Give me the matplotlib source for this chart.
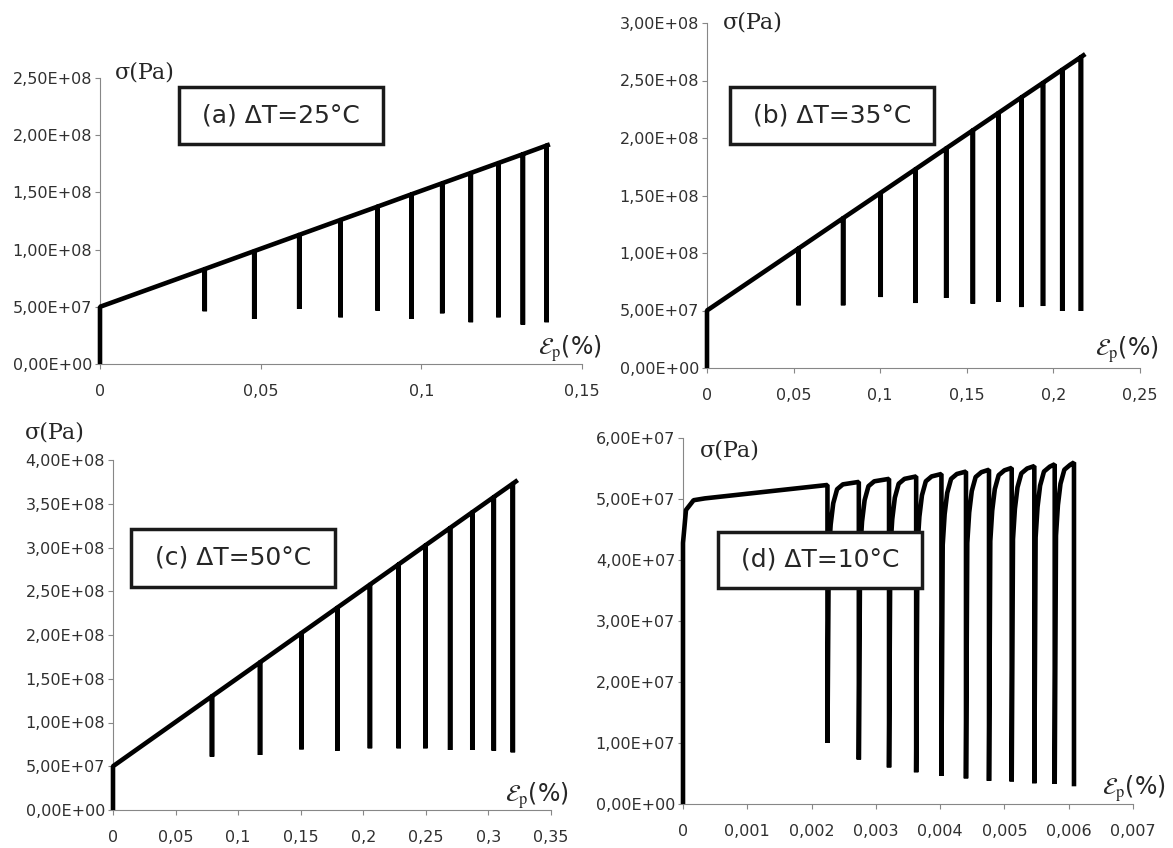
import matplotlib
matplotlib.use('Agg')
import matplotlib.pyplot as plt
from matplotlib.patches import Rectangle

plt.rcParams['mathtext.fontset'] = 'stix'
plt.rcParams['font.family'] = ['DejaVu Sans']

W, H = 1173, 848

# ---- (a) dT = 25 C ----
a_yield = 5.0e7
a_strain = [0.0326, 0.048, 0.062, 0.0749, 0.0864, 0.0969, 0.1065, 0.1154, 0.124, 0.1316, 0.139]
a_peak = [83.0e6, 98.7e6, 112.9e6, 126.0e6, 137.6e6, 148.3e6, 158.0e6, 167.0e6, 175.7e6, 183.4e6, 191.0e6]
a_valley = [46.1e6, 39.4e6, 48.1e6, 40.8e6, 46.7e6, 39.4e6, 44.3e6, 36.5e6, 40.8e6, 34.4e6, 36.5e6]
a_end = (0.140, 1.92e8)

# ---- (b) dT = 35 C ----
b_yield = 5.0e7
b_strain = [0.0529, 0.0786, 0.1003, 0.1203, 0.1381, 0.1535, 0.1682, 0.1815, 0.1940, 0.2051, 0.2159]
b_peak = [104.0e6, 130.3e6, 152.4e6, 172.8e6, 191.0e6, 206.7e6, 221.7e6, 235.3e6, 248.0e6, 259.4e6, 270.4e6]
b_valley = [54.5e6, 54.5e6, 61.7e6, 56.5e6, 60.9e6, 55.9e6, 57.4e6, 53.0e6, 53.9e6, 49.6e6, 49.6e6]
b_end = (0.2184, 2.73e8)

# ---- (c) dT = 50 C ----
c_yield = 5.0e7
c_strain = [0.0791, 0.1175, 0.1506, 0.1793, 0.2053, 0.2283, 0.2496, 0.2694, 0.2871, 0.3043, 0.3195]
c_peak = [130.0e6, 168.8e6, 202.3e6, 231.3e6, 257.6e6, 280.8e6, 302.4e6, 322.4e6, 340.3e6, 357.7e6, 373.0e6]
c_valley = [61.0e6, 62.9e6, 69.3e6, 67.8e6, 70.5e6, 70.5e6, 70.5e6, 68.6e6, 68.6e6, 67.8e6, 65.9e6]
c_end = (0.3234, 3.77e8)

# ---- (d) dT = 10 C ----
d_init_x = [0.0, 0.0, 0.0000466, 0.000165, 0.00034]
d_init_y = [0.0, 4.28e7, 4.82e7, 4.98e7, 5.01e7]
d_strain = [0.002247, 0.002735, 0.003205, 0.003627, 0.004020, 0.004402, 0.004760, 0.005113, 0.005465, 0.005782, 0.006082]
d_peak = [5.23e7, 5.28e7, 5.33e7, 5.37e7, 5.41e7, 5.45e7, 5.48e7, 5.51e7, 5.54e7, 5.57e7, 5.60e7]
d_valley = [1.00e7, 0.73e7, 0.60e7, 0.52e7, 0.46e7, 0.42e7, 0.38e7, 0.37e7, 0.34e7, 0.33e7, 0.29e7]
# reload knee after each unloading: strain offset and stress below the next peak
d_knee_dx = [0.00002, 0.00005, 0.00009, 0.00015, 0.00024]
d_knee_below = [1.2e7, 0.7e7, 0.35e7, 0.12e7, 0.04e7]

# ticks
a_xticks = [0, 0.05, 0.1, 0.15]
a_xlabels = ['0', '0,05', '0,1', '0,15']
a_yticks = [0, 5e7, 1e8, 1.5e8, 2e8, 2.5e8]
a_ylabels = ['0,00E+00', '5,00E+07', '1,00E+08', '1,50E+08', '2,00E+08', '2,50E+08']
b_xticks = [0, 0.05, 0.1, 0.15, 0.2, 0.25]
b_xlabels = ['0', '0,05', '0,1', '0,15', '0,2', '0,25']
b_yticks = [0, 5e7, 1e8, 1.5e8, 2e8, 2.5e8, 3e8]
b_ylabels = ['0,00E+00', '5,00E+07', '1,00E+08', '1,50E+08', '2,00E+08', '2,50E+08', '3,00E+08']
c_xticks = [0, 0.05, 0.1, 0.15, 0.2, 0.25, 0.3, 0.35]
c_xlabels = ['0', '0,05', '0,1', '0,15', '0,2', '0,25', '0,3', '0,35']
c_yticks = [0, 5e7, 1e8, 1.5e8, 2e8, 2.5e8, 3e8, 3.5e8, 4e8]
c_ylabels = ['0,00E+00', '5,00E+07', '1,00E+08', '1,50E+08', '2,00E+08', '2,50E+08',
             '3,00E+08', '3,50E+08', '4,00E+08']
d_xticks = [0, 0.001, 0.002, 0.003, 0.004, 0.005, 0.006, 0.007]
d_xlabels = ['0', '0,001', '0,002', '0,003', '0,004', '0,005', '0,006', '0,007']
d_yticks = [0, 1e7, 2e7, 3e7, 4e7, 5e7, 6e7]
d_ylabels = ['0,00E+00', '1,00E+07', '2,00E+07', '3,00E+07', '4,00E+07', '5,00E+07', '6,00E+07']

titles = ['(a) ΔT=25°C', '(b) ΔT=35°C', '(c) ΔT=50°C', '(d) ΔT=10°C']


def cycle_path(yield_s, strain, peak, valley, end):
    xs, ys = [0, 0], [0, yield_s]
    for s, p, v in zip(strain, peak, valley):
        xs += [s, s, s]
        ys += [p, v, p]
    xs.append(end[0])
    ys.append(end[1])
    return xs, ys


def d_path():
    xs, ys = list(d_init_x), list(d_init_y)
    n = len(d_strain)
    for i in range(n):
        xs += [d_strain[i], d_strain[i]]
        ys += [d_peak[i], d_valley[i]]
        if i + 1 < n:
            nxt = d_peak[i + 1]
            for dx, below in zip(d_knee_dx, d_knee_below):
                xs.append(d_strain[i] + dx)
                ys.append(nxt - below)
    return xs, ys


fig = plt.figure(figsize=(W / 100, H / 100), dpi=100)


def px_axes(x0, x1, yb, yt):
    return fig.add_axes([x0 / W, 1 - yb / H, (x1 - x0) / W, (yb - yt) / H])


def style(ax, xticks, xlabels, yticks, ylabels):
    ax.set_xlim(xticks[0], xticks[-1])
    ax.set_ylim(yticks[0], yticks[-1])
    ax.set_xticks(xticks)
    ax.set_xticklabels(xlabels)
    ax.set_yticks(yticks)
    ax.set_yticklabels(ylabels)
    for sp in ['top', 'right']:
        ax.spines[sp].set_visible(False)
    for sp in ['left', 'bottom']:
        ax.spines[sp].set_color('#878787')
        ax.spines[sp].set_linewidth(0.8)
    ax.tick_params(axis='both', direction='out', length=3.6, width=0.8,
                   color='#878787', labelsize=11.5, labelcolor='#303030')
    ax.tick_params(axis='x', pad=11)
    ax.tick_params(axis='y', pad=2)


panels = [
    ((100, 582, 364, 78), cycle_path(a_yield, a_strain, a_peak, a_valley, a_end),
     a_xticks, a_xlabels, a_yticks, a_ylabels),
    ((707, 1140, 368, 23), cycle_path(b_yield, b_strain, b_peak, b_valley, b_end),
     b_xticks, b_xlabels, b_yticks, b_ylabels),
    ((113, 551, 810, 460), cycle_path(c_yield, c_strain, c_peak, c_valley, c_end),
     c_xticks, c_xlabels, c_yticks, c_ylabels),
    ((683, 1133, 804, 438), d_path(),
     d_xticks, d_xlabels, d_yticks, d_ylabels),
]

for box, (xs, ys), xt, xl, yt, yl in panels:
    ax = px_axes(*box)
    style(ax, xt, xl, yt, yl)
    ax.plot(xs, ys, color='black', lw=3.3, clip_on=False,
            solid_joinstyle='bevel', solid_capstyle='butt', zorder=3)

# sigma labels (pixel centres)
sigma_pos = [(145, 73), (753, 22), (55, 432), (730, 450)]
for x, y in sigma_pos:
    fig.text(x / W, 1 - y / H, 'σ(Pa)', family='DejaVu Serif', fontsize=16,
             ha='center', va='center', color='#262626')

# strain labels
eps_pos = [(570, 349), (1127, 350), (537, 796), (1134, 789)]
for x, y in eps_pos:
    fig.text(x / W, 1 - y / H, r'$\mathcal{E}_{\mathrm{p}}$(%)', fontsize=17,
             ha='center', va='center', color='#262626')

# title boxes
boxes = [(179, 87, 383, 144), (730, 87, 934, 144), (131, 529, 335, 587), (718, 532, 922, 588)]
for (x0, y0, x1, y1), t in zip(boxes, titles):
    rect = Rectangle((x0 / W, 1 - y1 / H), (x1 - x0) / W, (y1 - y0) / H,
                     transform=fig.transFigure, facecolor='white',
                     edgecolor='#1a1a1a', lw=2.5, zorder=10)
    fig.add_artist(rect)
    fig.text((x0 + x1) / 2 / W, 1 - (y0 + y1) / 2 / H, t, fontsize=18,
             ha='center', va='center', color='#262626', zorder=11)

fig.savefig('out.png', dpi=100)
